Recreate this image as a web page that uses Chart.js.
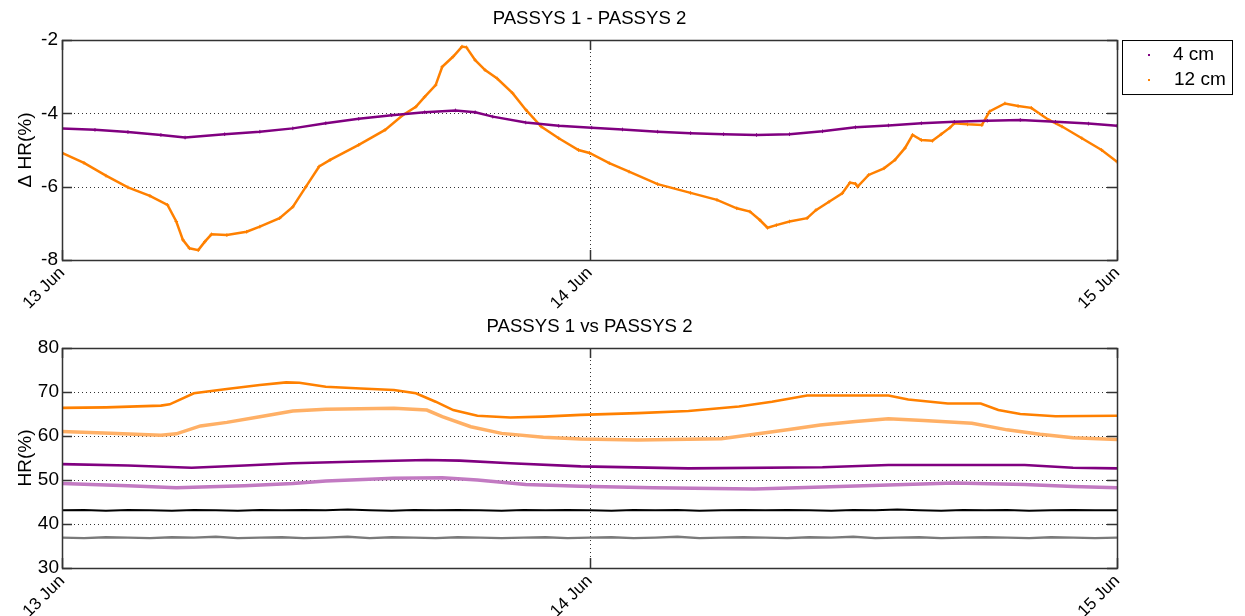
<!DOCTYPE html>
<html>
<head>
<meta charset="utf-8">
<script src="https://cdn.jsdelivr.net/npm/chart.js@4"></script>
<style>
  html, body { margin: 0; padding: 0; background: #fff; }
  #wrap { position: relative; width: 1245px; height: 616px; overflow: hidden; }
  canvas { position: absolute; left: 0; }
  #c1 { top: 0; }
  #c2 { top: 305px; }
</style>
</head>
<body>
<div id="wrap">
  <canvas id="c1" width="1245" height="314"></canvas>
  <canvas id="c2" width="1245" height="311"></canvas>
</div>
<script>
// ---------- DATA (hours since 13 Jun 00:00) ----------
const xTickValues = [0, 24, 48];
const xTickLabels = ['13 Jun', '14 Jun', '15 Jun'];

const topTitle = 'PASSYS 1 - PASSYS 2';
const bottomTitle = 'PASSYS 1 vs PASSYS 2';
const topYTicks = [-8, -6, -4, -2];
const bottomYTicks = [30, 40, 50, 60, 70, 80];
const legendLabels = ['4 cm', '12 cm'];

// Top panel: Δ HR(%) at 4 cm
const diff4Hours = [0, 1.5, 3.0, 4.5, 5.6, 7.4, 9.0, 10.5, 12.0, 13.5, 15.0, 16.5, 17.9, 18.8, 19.6, 21.1, 22.6, 24.1,
  25.5, 27.1, 28.6, 30.1, 31.6, 33.1, 34.6, 36.1, 37.6, 39.1, 40.6, 42.1, 43.6, 45.2, 46.7, 48.0];
const diff4Values = [-4.41, -4.45, -4.51, -4.59, -4.66, -4.57, -4.50, -4.41, -4.27, -4.15, -4.05, -3.97, -3.92, -3.97, -4.09, -4.25, -4.34, -4.39,
  -4.44, -4.50, -4.54, -4.57, -4.59, -4.57, -4.49, -4.38, -4.33, -4.27, -4.23, -4.20, -4.18, -4.23, -4.28, -4.34];

// Top panel: Δ HR(%) at 12 cm
const diff12Hours = [0, 1, 2, 3, 4, 4.8, 5.2, 5.5, 5.8, 6.2, 6.5, 6.8, 7.5, 8.4, 9.0, 9.9, 10.5, 11.1, 11.7, 12.2,
  13.5, 14.7, 15.5, 16.1, 16.5, 17.0, 17.3, 17.8, 18.2, 18.4, 18.8, 19.25, 19.8, 20.5, 21.1, 21.8, 22.6, 23.5, 24.0,
  24.9, 25.8, 27.1, 28.6, 29.8, 30.7, 31.3, 31.75, 32.1, 32.5, 33.1, 33.9, 34.3, 34.9, 35.5, 35.85, 36.1, 36.2,
  36.7, 37.4, 37.9, 38.35, 38.7, 39.1, 39.6, 40.0, 40.4, 40.6, 41.2, 41.85, 42.2, 42.9, 43.5, 44.1, 44.9, 45.5, 46.4, 47.3, 48.0];
const diff12Values = [-5.08, -5.35, -5.70, -6.02, -6.25, -6.50, -6.95, -7.45, -7.68, -7.73, -7.50, -7.30, -7.32, -7.23, -7.09, -6.86, -6.55, -6.00, -5.45, -5.27,
  -4.86, -4.45, -4.05, -3.82, -3.55, -3.23, -2.73, -2.45, -2.18, -2.20, -2.55, -2.82, -3.05, -3.45, -3.90, -4.36, -4.68, -5.00, -5.08,
  -5.36, -5.59, -5.93, -6.17, -6.36, -6.59, -6.68, -6.91, -7.12, -7.05, -6.95, -6.86, -6.64, -6.41, -6.18, -5.89, -5.92, -6.00,
  -5.68, -5.50, -5.27, -4.95, -4.59, -4.73, -4.75, -4.57, -4.39, -4.27, -4.30, -4.32, -3.95, -3.73, -3.80, -3.85, -4.18, -4.36, -4.68, -5.00, -5.32];

// Bottom panel: HR(%)
const p1_12Hours = [0, 2, 4.5, 4.9, 6.0, 7.5, 9.0, 10.2, 10.8, 12.0, 13.6, 15.1, 16.1, 17.0, 17.8, 18.9, 20.4, 21.9, 23.6,
  26.2, 28.5, 30.8, 32.3, 33.9, 35.3, 37.6, 38.5, 40.3, 41.8, 42.6, 43.6, 45.2, 48.0];
const p1_12Values = [66.4, 66.5, 66.9, 67.2, 69.7, 70.7, 71.6, 72.2, 72.1, 71.2, 70.8, 70.45, 69.7, 67.8, 65.9, 64.6, 64.2, 64.4, 64.8,
  65.2, 65.7, 66.7, 67.8, 69.2, 69.2, 69.2, 68.3, 67.4, 67.4, 65.9, 65.0, 64.5, 64.6];

const p2_12Hours = [0, 2.2, 4.5, 5.2, 6.3, 7.5, 9.0, 10.5, 12.0, 15.1, 16.6, 17.3, 18.6, 20.0, 21.9, 23.6,
  26.2, 30.0, 31.5, 33.0, 34.5, 36.1, 37.6, 39.2, 41.4, 43.0, 44.5, 46.0, 48.0];
const p2_12Values = [61.0, 60.6, 60.2, 60.5, 62.3, 63.1, 64.4, 65.7, 66.1, 66.3, 65.9, 64.4, 62.1, 60.6, 59.7, 59.3,
  59.1, 59.4, 60.4, 61.4, 62.5, 63.3, 63.9, 63.5, 62.9, 61.4, 60.4, 59.6, 59.2];

const p1_4Hours = [0, 3.0, 5.9, 8.3, 10.5, 13.6, 16.6, 18.1, 20.4, 23.6, 28.5, 34.6, 37.6, 43.8, 46.0, 48.0];
const p1_4Values = [53.6, 53.3, 52.8, 53.3, 53.8, 54.2, 54.55, 54.4, 53.8, 53.1, 52.65, 52.9, 53.4, 53.4, 52.8, 52.65];

const p2_4Hours = [0, 3.0, 5.2, 8.3, 10.5, 12.0, 15.1, 17.3, 18.9, 21.1, 23.6, 26.9, 31.5, 34.6, 37.6, 40.6, 43.8, 46.0, 48.0];
const p2_4Values = [49.2, 48.7, 48.25, 48.7, 49.2, 49.8, 50.4, 50.5, 50.0, 49.0, 48.6, 48.25, 47.95, 48.4, 48.85, 49.3, 49.0, 48.5, 48.25];

const refHours = [0, 1, 2, 3, 4, 5, 6, 7, 8, 9, 10, 11, 12, 13, 14, 15, 16, 17, 18, 19, 20, 21, 22, 23, 24,
  25, 26, 27, 28, 29, 30, 31, 32, 33, 34, 35, 36, 37, 38, 39, 40, 41, 42, 43, 44, 45, 46, 47, 48];
const ref1Values = [43.1, 43.2, 43.0, 43.2, 43.1, 43.0, 43.2, 43.1, 43.0, 43.2,
  43.1, 43.2, 43.1, 43.3, 43.1, 43.0, 43.2, 43.1, 43.2, 43.1,
  43.0, 43.2, 43.1, 43.2, 43.1, 43.0, 43.2, 43.1, 43.2, 43.0,
  43.1, 43.2, 43.1, 43.2, 43.1, 43.0, 43.2, 43.1, 43.3, 43.1,
  43.0, 43.2, 43.1, 43.2, 43.0, 43.1, 43.2, 43.1, 43.1];
const ref2Values = [36.9, 36.8, 37.0, 36.9, 36.8, 37.0, 36.9, 37.1, 36.8, 36.9,
  37.0, 36.8, 36.9, 37.1, 36.8, 37.0, 36.9, 36.8, 37.0, 36.9,
  36.8, 36.9, 37.0, 36.8, 36.9, 37.0, 36.8, 36.9, 37.1, 36.8,
  36.9, 37.0, 36.9, 36.8, 37.0, 36.9, 37.1, 36.8, 36.9, 37.0,
  36.8, 36.9, 37.0, 36.9, 36.8, 37.0, 36.9, 36.8, 36.9];

// ---------- helpers ----------
const FONT = "Arial, 'Liberation Sans', Helvetica, sans-serif";
const FS = 19;
const XFS = 17;
const PURPLE = '#800080';
const ORANGE = '#ff8000';
const pts = (hs, vs) => hs.map((h, i) => ({ x: h, y: vs[i] }));

function frame(tickLen) {
  return {
    id: 'frame',
    beforeDatasetsDraw(chart) {
      const { ctx, chartArea: a, scales } = chart;
      const ys = scales.y, xs = scales.x;
      ctx.save();
      ctx.strokeStyle = '#333';
      ctx.lineWidth = 1;
      ctx.setLineDash([1, 3]);
      ys.ticks.forEach(t => {
        if (t.value === ys.min || t.value === ys.max) return;
        const y = Math.round(ys.getPixelForValue(t.value)) + 0.5;
        ctx.beginPath(); ctx.moveTo(a.left, y); ctx.lineTo(a.right, y); ctx.stroke();
      });
      xs.ticks.forEach(t => {
        if (t.value === xs.min || t.value === xs.max) return;
        const x = Math.round(xs.getPixelForValue(t.value)) + 0.5;
        ctx.beginPath(); ctx.moveTo(x, a.top); ctx.lineTo(x, a.bottom); ctx.stroke();
      });
      ctx.restore();
    },
    afterDatasetsDraw(chart) {
      const { ctx, chartArea: a, scales } = chart;
      const ys = scales.y, xs = scales.x;
      ctx.save();
      ctx.strokeStyle = '#333';
      ctx.lineWidth = 1.5;
      ctx.setLineDash([]);
      ys.ticks.forEach(t => {
        const y = Math.round(ys.getPixelForValue(t.value)) + 0.5;
        ctx.beginPath();
        ctx.moveTo(a.left, y); ctx.lineTo(a.left + tickLen, y);
        ctx.moveTo(a.right, y); ctx.lineTo(a.right - tickLen, y);
        ctx.stroke();
      });
      xs.ticks.forEach(t => {
        const x = Math.round(xs.getPixelForValue(t.value)) + 0.5;
        ctx.beginPath();
        ctx.moveTo(x, a.top); ctx.lineTo(x, a.top + tickLen);
        ctx.moveTo(x, a.bottom); ctx.lineTo(x, a.bottom - tickLen);
        ctx.stroke();
      });
      ctx.strokeRect(Math.round(a.left) + 0.5, Math.round(a.top) + 0.5,
        Math.round(a.right - a.left), Math.round(a.bottom - a.top));
      ctx.restore();
    }
  };
}

const boxLegend = {
  id: 'boxLegend',
  afterDraw(chart) {
    const { ctx, chartArea: a } = chart;
    const x0 = a.right + 5, y0 = a.top, w = 110, h = 54;
    ctx.save();
    ctx.fillStyle = '#fff';
    ctx.fillRect(x0, y0, w, h);
    ctx.strokeStyle = '#000';
    ctx.lineWidth = 1;
    ctx.strokeRect(x0 + 0.5, y0 + 0.5, w, h);
    const colors = chart.data.datasets.map(d => d.borderColor);
    ctx.font = FS + 'px ' + FONT;
    ctx.textBaseline = 'middle';
    ctx.textAlign = 'left';
    legendLabels.forEach((lab, i) => {
      const cy = y0 + 15 + i * 25;
      ctx.fillStyle = colors[i];
      ctx.fillRect(x0 + 26, cy - 1, 2, 2);
      ctx.fillStyle = '#000';
      ctx.fillText(lab, x0 + (i === 0 ? 51 : 52), cy);
    });
    ctx.restore();
  }
};

function xScale(h) {
  return {
    type: 'linear', min: 0, max: 48,
    afterBuildTicks: ax => { ax.ticks = xTickValues.map(v => ({ value: v })); },
    afterFit: s => { s.height = h; },
    grid: { display: false, drawTicks: false },
    border: { display: false },
    ticks: {
      autoSkip: false, maxRotation: 45, minRotation: 45, padding: 3,
      color: '#000', font: { family: FONT, size: XFS },
      callback: v => xTickLabels[xTickValues.indexOf(v)]
    }
  };
}

function yScale(min, max, tickVals, titleText, pad) {
  return {
    type: 'linear', min, max,
    afterBuildTicks: ax => { ax.ticks = tickVals.map(v => ({ value: v })); },
    afterFit: s => { s.width = 62; },
    grid: { display: false, drawTicks: false },
    border: { display: false },
    ticks: { padding: pad, color: '#000', font: { family: FONT, size: FS } },
    title: { display: true, text: titleText, color: '#000', font: { family: FONT, size: FS }, padding: { top: 14, bottom: 0 } }
  };
}

function titleOpts(text, top, bottom) {
  return {
    display: true, text, fullSize: false, color: '#000',
    font: { family: FONT, size: 18.6, weight: 'normal' },
    padding: { top, bottom }
  };
}

// ---------- top chart ----------
new Chart(document.getElementById('c1'), {
  type: 'line',
  data: {
    datasets: [
      { label: legendLabels[0], data: pts(diff4Hours, diff4Values), borderColor: PURPLE, backgroundColor: PURPLE,
        borderWidth: 2.5, pointStyle: 'cross', pointRadius: 1.8, pointBorderWidth: 1, tension: 0 },
      { label: legendLabels[1], data: pts(diff12Hours, diff12Values), borderColor: ORANGE, backgroundColor: ORANGE,
        borderWidth: 2.5, pointStyle: 'cross', pointRadius: 1.8, pointBorderWidth: 1, tension: 0 }
    ]
  },
  options: {
    responsive: false, animation: false,
    layout: { padding: { left: 0, right: 128, top: 0, bottom: 0 } },
    plugins: { legend: { display: false }, tooltip: { enabled: false },
      title: titleOpts(topTitle, 8, 9.7) },
    scales: { x: xScale(54), y: yScale(-8, -2, topYTicks, '\u0394 HR(%)', 4) }
  },
  plugins: [frame(10), boxLegend]
});

// ---------- bottom chart ----------
new Chart(document.getElementById('c2'), {
  type: 'line',
  data: {
    datasets: [
      { label: 'P1 4 cm', data: pts(p1_4Hours, p1_4Values), borderColor: PURPLE, borderWidth: 2.6, pointRadius: 0, tension: 0 },
      { label: 'P2 4 cm', data: pts(p2_4Hours, p2_4Values), borderColor: '#c27ac2', borderWidth: 3.5, pointRadius: 0, tension: 0 },
      { label: 'P1 12 cm', data: pts(p1_12Hours, p1_12Values), borderColor: ORANGE, borderWidth: 2.6, pointRadius: 0, tension: 0 },
      { label: 'P2 12 cm', data: pts(p2_12Hours, p2_12Values), borderColor: '#ffb066', borderWidth: 3.5, pointRadius: 0, tension: 0 },
      { label: 'ref 1', data: pts(refHours, ref1Values), borderColor: '#000', borderWidth: 2, pointRadius: 0, tension: 0 },
      { label: 'ref 2', data: pts(refHours, ref2Values), borderColor: '#7a7a7a', borderWidth: 2.4, pointRadius: 0, tension: 0 }
    ]
  },
  options: {
    responsive: false, animation: false,
    layout: { padding: { left: 0, right: 128, top: 0, bottom: 0 } },
    plugins: { legend: { display: false }, tooltip: { enabled: false },
      title: titleOpts(bottomTitle, 10.9, 9.8) },
    scales: { x: xScale(48), y: yScale(30, 80, bottomYTicks, 'HR(%)', 3) }
  },
  plugins: [frame(10)]
});
</script>
</body>
</html>
